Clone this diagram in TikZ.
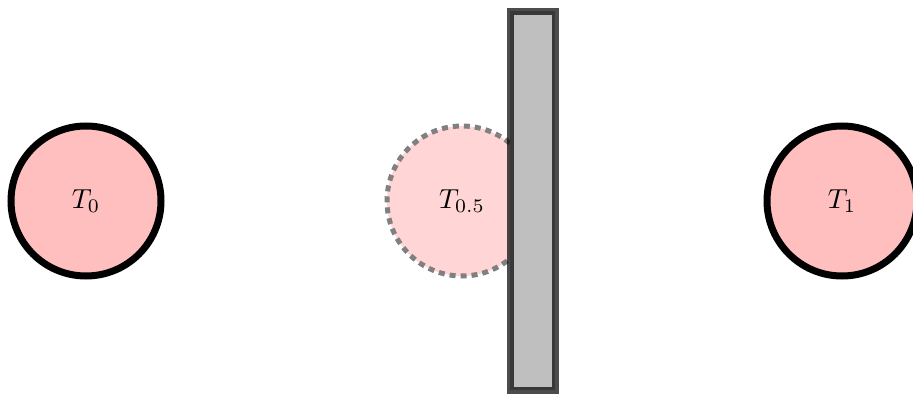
\documentclass[tikz,border=0pt]{standalone}
\newcommand{\bigtxt}[1]{\scalebox{2.75}{#1}}
\begin{document}
\begin{tikzpicture}[x=1pt,y=1pt,
  state/.style={circle,draw=black,line width=7pt,fill=red!25,minimum size=150pt,inner sep=0pt},
  ghost/.style={circle,draw=black!50,line width=5pt,dash pattern=on 6pt off 5pt,fill=red!25,fill opacity=0.65,text opacity=1,minimum size=150pt,inner sep=0pt},
  wall/.style={draw=black,draw opacity=0.7,line width=7pt,fill=black!25}]
\useasboundingbox (0,0) rectangle (913,394);
\node[state] (t0) at (86,193) {\bigtxt{$T_0$}};
\node[ghost] (th) at (462,193) {\bigtxt{$T_{0.5}$}};
\node[state] (t1) at (842,193) {\bigtxt{$T_1$}};
\draw[wall] (510,4) rectangle (555,382.5);
\end{tikzpicture}
\end{document}
